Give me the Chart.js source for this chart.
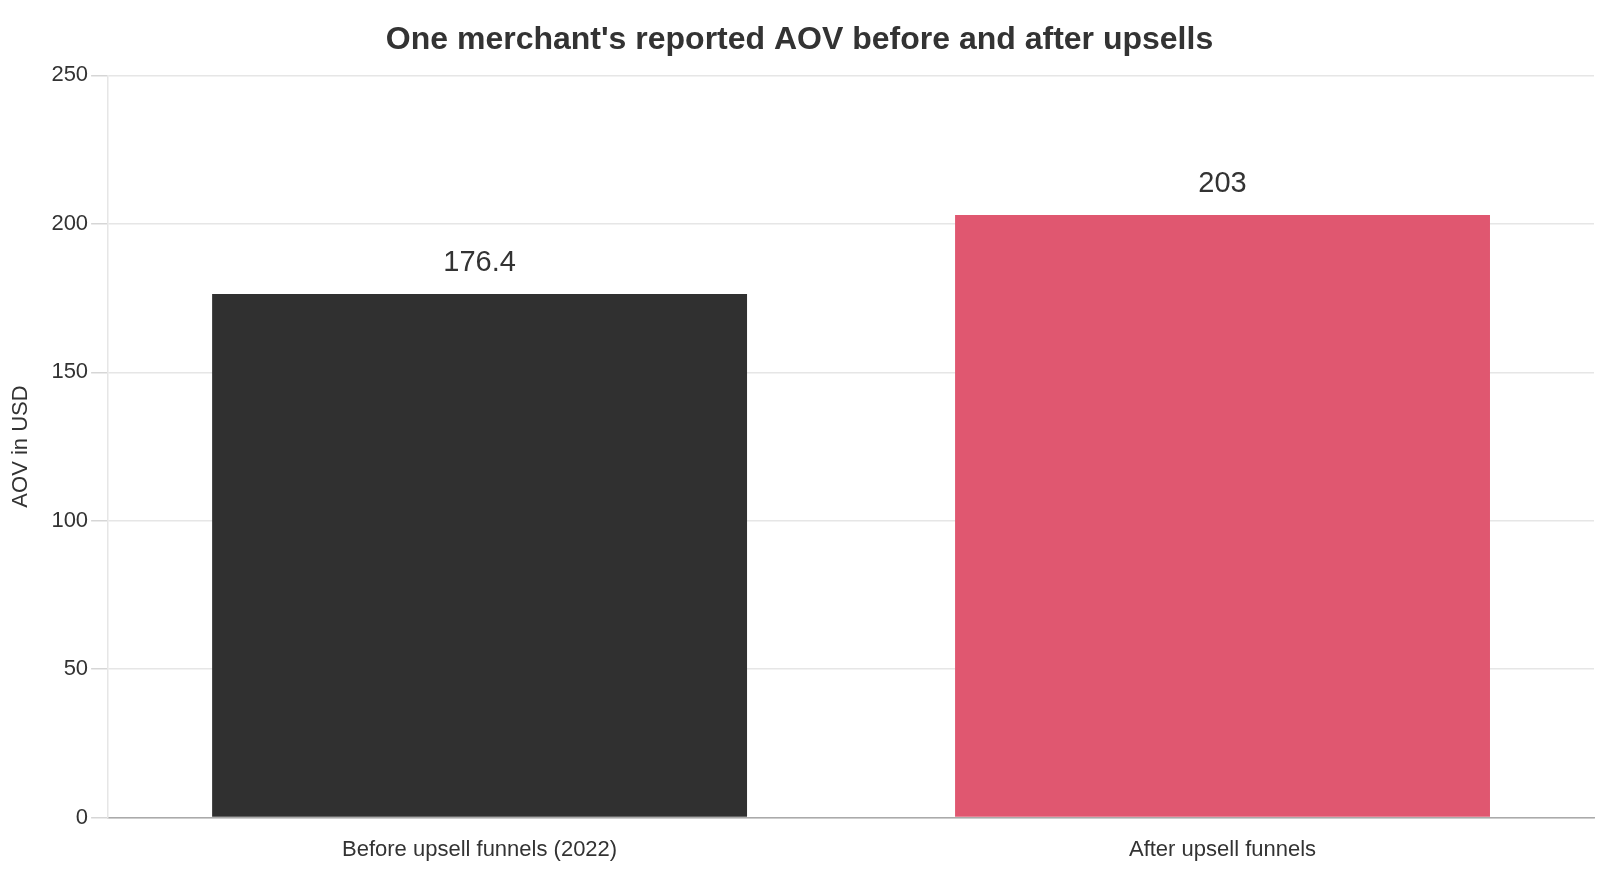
<!DOCTYPE html>
<html>
<head>
<meta charset="utf-8">
<script src="https://cdn.jsdelivr.net/npm/chart.js@4.4.0/dist/chart.umd.min.js"></script>
<style>
  html, body { margin: 0; padding: 0; background: #ffffff; overflow: hidden; }
  canvas { display: block; }
</style>
</head>
<body>
<canvas id="aovChart" width="1600" height="874"></canvas>
<script>
var categories = ["Before upsell funnels (2022)", "After upsell funnels"];
var aovValues = [176.4, 203];
var barColors = ["#303030", "#e05770"];
var yTicks = [0, 50, 100, 150, 200, 250];

var FONT = '"Liberation Sans", Arial, sans-serif';

// draws the number above each bar
var valueLabels = {
    id: 'valueLabels',
    afterDatasetsDraw: function (chart) {
        var ctx = chart.ctx;
        var meta = chart.getDatasetMeta(0);
        ctx.save();
        ctx.font = '29px ' + FONT;
        ctx.fillStyle = '#333333';
        ctx.textAlign = 'center';
        ctx.textBaseline = 'middle';
        meta.data.forEach(function (bar, i) {
            ctx.fillText(String(aovValues[i]), bar.x, bar.y - 31);
        });
        ctx.restore();
    }
};

function makeChart() {
    var canvas = document.getElementById("aovChart");

    var dataAov = {
        label: "AOV",
        data: aovValues,
        backgroundColor: barColors,
        borderWidth: 0,
        categoryPercentage: 0.8,
        barPercentage: 0.9
    };

    var chartOptions = {
        responsive: false,
        devicePixelRatio: 1,
        animation: false,
        layout: {
            padding: { left: 5, right: 6, top: 14, bottom: 0 }
        },
        plugins: {
            legend: { display: false },
            tooltip: { enabled: false },
            title: {
                display: true,
                text: "One merchant's reported AOV before and after upsells",
                color: '#333333',
                font: { family: FONT, size: 32, weight: 'bold' },
                padding: { top: 7, bottom: 16 }
            }
        },
        scales: {
            x: {
                grid: { display: false, tickLength: 8 },
                border: { display: true, color: '#aaaaaa', width: 1.5 },
                ticks: {
                    color: '#333333',
                    padding: 11,
                    font: { family: FONT, size: 22 }
                }
            },
            y: {
                min: 0,
                max: 250,
                afterBuildTicks: function (axis) {
                    axis.ticks = yTicks.map(function (v) { return { value: v }; });
                },
                grid: { color: '#e6e6e6', lineWidth: 1.5, tickLength: 17, tickColor: '#d6d6d6' },
                border: { display: true, color: '#e6e6e6', width: 1.5 },
                ticks: {
                    color: '#333333',
                    padding: 3,
                    font: { family: FONT, size: 22 }
                },
                title: {
                    display: true,
                    text: 'AOV in USD',
                    color: '#333333',
                    padding: { top: 3, bottom: 14 },
                    font: { family: FONT, size: 22 }
                }
            }
        }
    };

    new Chart(canvas, {
        type: 'bar',
        data: { labels: categories, datasets: [dataAov] },
        options: chartOptions,
        plugins: [valueLabels]
    });
}

document.addEventListener('DOMContentLoaded', makeChart);
</script>
</body>
</html>
